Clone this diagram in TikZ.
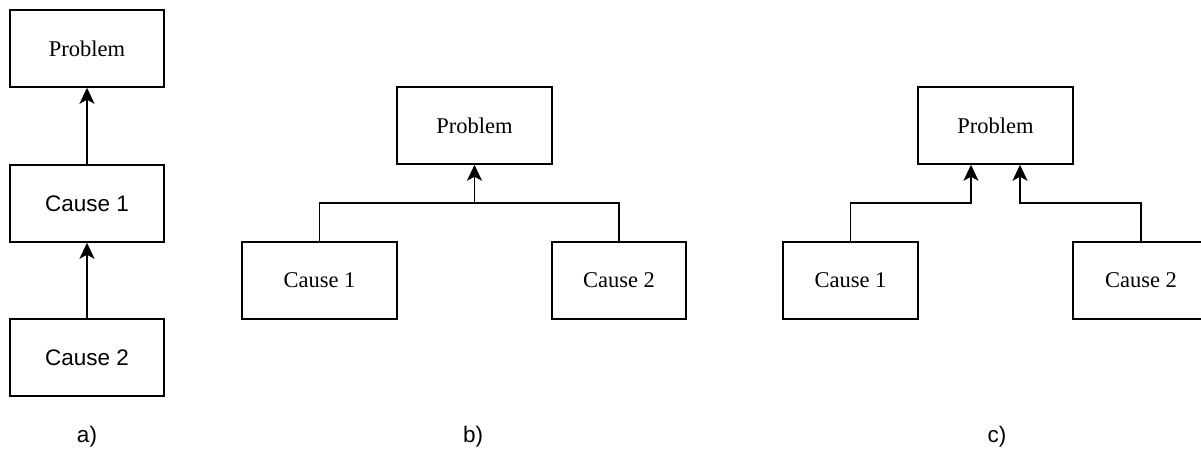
\documentclass[tikz,border=0pt]{standalone}
\usepackage{fontspec}
\setmainfont{Liberation Serif}
\newfontfamily\labelsans{Liberation Sans}
\usetikzlibrary{arrows.meta}
\begin{document}
\begin{tikzpicture}[x=1pt,y=-1pt,
  box/.style={draw, line width=1.5pt, rectangle, inner sep=0pt,
    minimum height=77pt, font=\fontsize{22.5}{27}\selectfont},
  sansbox/.style={box, font=\labelsans\fontsize{22.5}{27}\selectfont},
  link/.style={line width=1.5pt},
  arr/.style={link, -{Stealth[length=16pt,width=15pt,inset=4pt]}},
  caption/.style={anchor=base, inner sep=0pt,
    font=\labelsans\fontsize{22.5}{27}\selectfont}]
\useasboundingbox (0,0) rectangle (1201,450);

% a) chain: Cause 2 -> Cause 1 -> Problem
\node[box, minimum width=154pt] (ap) at (87,48.5) {Problem};
\node[sansbox, minimum width=154pt] (ac1) at (87,203.5) {Cause 1};
\node[sansbox, minimum width=154pt] (ac2) at (87,357.5) {Cause 2};
\node[caption] (al) at (87,442) {a)};
\draw[arr] (ac1.north) -- (ap.south);
\draw[arr] (ac2.north) -- (ac1.south);

% b) both causes merge into one arrow
\node[box, minimum width=155pt] (bp) at (474.5,125.5) {Problem};
\node[box, minimum width=155pt] (bc1) at (319.5,280.5) {Cause 1};
\node[box, minimum width=134pt] (bc2) at (619,280.5) {Cause 2};
\node[caption] (bl) at (473,442) {b)};
\coordinate (bj) at (474.5,203);
\draw[link] (bc1.north) |- (bj) -| (bc2.north);
\draw[arr] (bj) -- (bp.south);

% c) separate arrow for each cause
\node[box, minimum width=155pt] (cp) at (995.5,125.5) {Problem};
\node[box, minimum width=135pt] (cc1) at (850.5,280.5) {Cause 1};
\node[box, minimum width=136pt] (cc2) at (1141,280.5) {Cause 2};
\node[caption] (cl) at (997,442) {c)};
\coordinate (cj1) at (971,203);
\coordinate (cj2) at (1020,203);
\draw[arr] (cc1.north) |- (cj1) -- (cj1 |- cp.south);
\draw[arr] (cc2.north) |- (cj2) -- (cj2 |- cp.south);
\end{tikzpicture}
\end{document}
